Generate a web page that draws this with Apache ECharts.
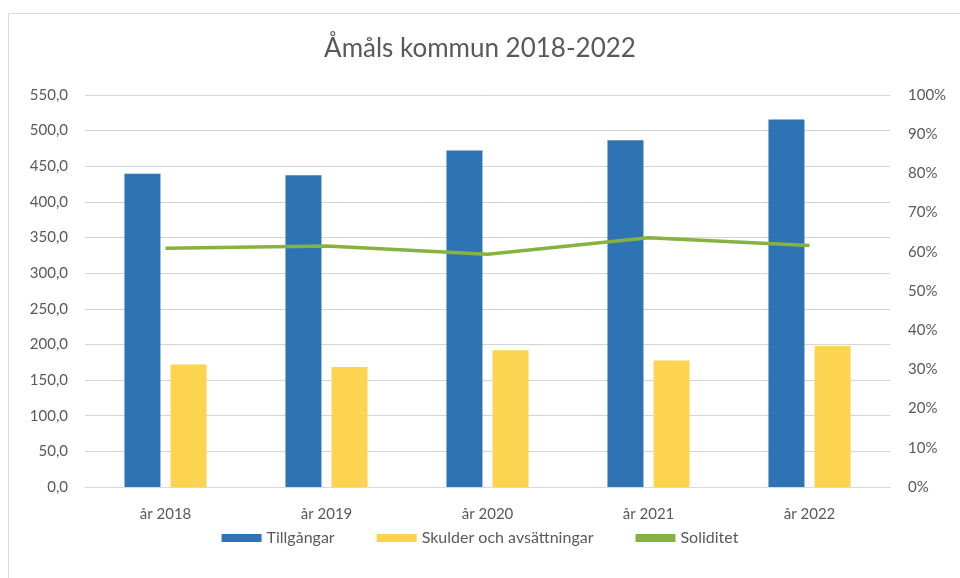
<!DOCTYPE html>
<html>
<head>
<meta charset="utf-8">
<script src="https://cdn.jsdelivr.net/npm/echarts@6/dist/echarts.min.js"></script>
<style>
  html, body { margin: 0; padding: 0; background: #fff; }
  #chart { width: 960px; height: 578px; }
</style>
</head>
<body>
<div id="chart"></div>
<script>
// data
var years = ['år 2018', 'år 2019', 'år 2020', 'år 2021', 'år 2022'];
var tillgangar = [439.5, 437.5, 472.0, 486.5, 515.5];
var skulder = [172.0, 168.5, 192.0, 177.5, 198.0];
var soliditet = [60.9, 61.5, 59.4, 63.6, 61.6]; // procent

var textColor = '#595959';
var font = 'Lato, "Open Sans", sans-serif';

var chart = echarts.init(document.getElementById('chart'));
chart.setOption({
  animation: false,
  textStyle: { fontFamily: font, color: textColor },
  graphic: [{
    type: 'rect',
    shape: { x: 8.5, y: 13.5, width: 970, height: 600 },
    style: { fill: 'none', stroke: '#d9d9d9', lineWidth: 1 },
    silent: true
  }],
  title: {
    text: 'Åmåls kommun 2018-2022',
    left: 'center',
    top: 31,
    textStyle: { fontFamily: font, fontSize: 26, fontWeight: 'normal', color: textColor }
  },
  legend: {
    bottom: 27,
    left: 'center',
    itemWidth: 40,
    itemHeight: 8,
    itemGap: 42,
    textStyle: { fontFamily: font, fontSize: 16, color: textColor },
    data: [
      { name: 'Tillgångar', icon: 'rect' },
      { name: 'Skulder och avsättningar', icon: 'rect' },
      { name: 'Soliditet', icon: 'rect' }
    ]
  },
  grid: { left: 85, right: 70, top: 95, bottom: 91 },
  xAxis: {
    type: 'category',
    data: years,
    axisLine: { lineStyle: { color: '#d9d9d9' } },
    axisTick: { show: false },
    axisLabel: { fontFamily: font, fontSize: 15, color: textColor, margin: 20 }
  },
  yAxis: [{
    type: 'value',
    min: 0,
    max: 550,
    interval: 50,
    axisLine: { show: false },
    axisTick: { show: false },
    splitLine: { lineStyle: { color: '#d4d4d4', width: 1 } },
    axisLabel: {
      fontFamily: font, fontSize: 15, color: textColor, margin: 17,
      formatter: function (v) { return v.toFixed(1).replace('.', ','); }
    }
  }, {
    type: 'value',
    min: 0,
    max: 100,
    interval: 10,
    axisLine: { show: false },
    axisTick: { show: false },
    splitLine: { show: false },
    axisLabel: { fontFamily: font, fontSize: 15, color: textColor, margin: 18, formatter: '{value}%' }
  }],
  series: [{
    name: 'Tillgångar',
    type: 'bar',
    data: tillgangar,
    barWidth: 36,
    barGap: '28%',
    itemStyle: { color: '#2e74b5' }
  }, {
    name: 'Skulder och avsättningar',
    type: 'bar',
    data: skulder,
    barWidth: 36,
    barGap: '28%',
    itemStyle: { color: '#fdd44f' }
  }, {
    name: 'Soliditet',
    type: 'line',
    yAxisIndex: 1,
    data: soliditet,
    symbol: 'none',
    lineStyle: { color: '#86b340', width: 3.5 },
    itemStyle: { color: '#86b340' }
  }]
});
</script>
</body>
</html>
